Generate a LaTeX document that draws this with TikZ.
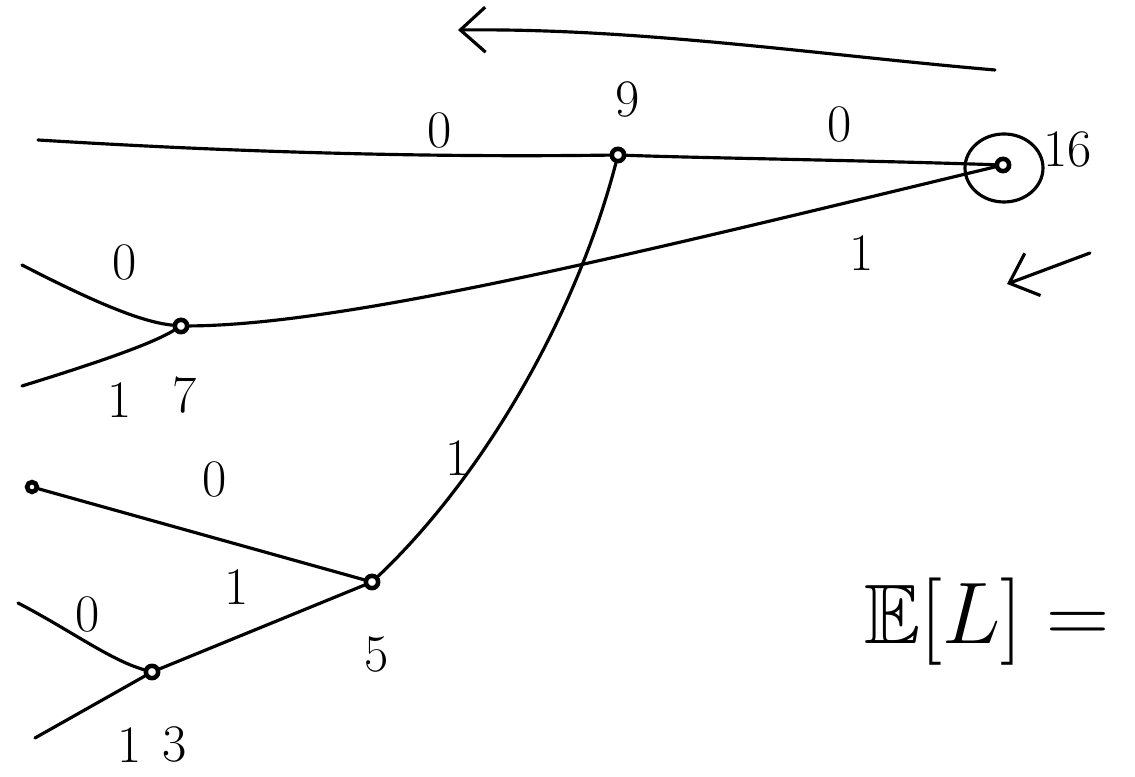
\documentclass[tikz,border=0pt]{standalone}
\usepackage{amssymb}
\usetikzlibrary{arrows.meta, positioning}

\begin{document}
\begin{tikzpicture}[
    x=0.01cm, y=-0.01cm,
    every node/.style={font=\fontsize{15}{18}\selectfont},
    vertex/.style={circle, draw, line width=1.3pt, inner sep=0pt, minimum size=3.5pt},
    edge/.style={line width=0.9pt, line cap=round},
    arrow/.style={-{Straight Barb[length=2.5mm, width=4.5mm]}, line width=0.9pt, line cap=round}
]
\useasboundingbox (0,0) rectangle (1135,777);

\node[vertex] (n16) at (1003,165) {};
\node[vertex] (n9) at (618,155) {};
\node[vertex] (n7) at (181,326) {};
\node[vertex] (n5) at (372,582) {};
\node[vertex] (n3) at (152,672) {};
\node[vertex, minimum size=2.8pt] (leafa) at (32,487) {};

\coordinate (l9) at (38,140);
\coordinate (l7a) at (22,265);
\coordinate (l7b) at (22,386);
\coordinate (l3a) at (18,603);
\coordinate (l3b) at (35,738);

\draw[edge] (n16.center) ++(1,3) ellipse (39 and 34);

\draw[edge] (n16) .. controls (850,160) and (700,158) .. (n9);
\draw[edge] (n9) .. controls (400,158) and (200,150) .. (l9);
\draw[edge] (n16) .. controls (650,250) and (350,325) .. (n7);
\draw[edge] (n9) .. controls (575,320) and (480,480) .. (n5);
\draw[edge] (l7a) .. controls (90,300) and (140,322) .. (n7);
\draw[edge] (l7b) .. controls (90,365) and (150,345) .. (n7);
\draw[edge] (leafa) -- (n5);
\draw[edge] (n5) -- (n3);
\draw[edge] (l3a) .. controls (70,630) and (110,660) .. (n3);
\draw[edge] (l3b) -- (n3);

% weights
\node (w16) at (1068,150) {16};
\node (w9) at (628,100) {9};
\node (w7) at (185,395) {7};
\node (w5) at (377,655) {5};
\node (w3) at (175,745) {3};

% bits
\node (b9l) at (440,131) {0};
\node (b16a) at (840,125) {0};
\node (b16b) at (862,253) {1};
\node (b7a) at (125,263) {0};
\node (b7b) at (120,400) {1};
\node (b9b) at (458,458) {1};
\node (b5a) at (215,480) {0};
\node (b5b) at (237,587) {1};
\node (b3a) at (88,615) {0};
\node (b3b) at (130,745) {1};

\node[font=\fontsize{24}{28}\selectfont] (exp) at (987,622) {$\mathbb{E}[L] =$};

\coordinate (a1s) at (995,70);
\coordinate (a1e) at (458,30);
\coordinate (a2s) at (1090,253);
\coordinate (a2e) at (1007,284);
\draw[arrow] (a1s) .. controls (820,55) and (640,28) .. (a1e);
\draw[arrow] (a2s) -- (a2e);

\end{tikzpicture}
\end{document}
